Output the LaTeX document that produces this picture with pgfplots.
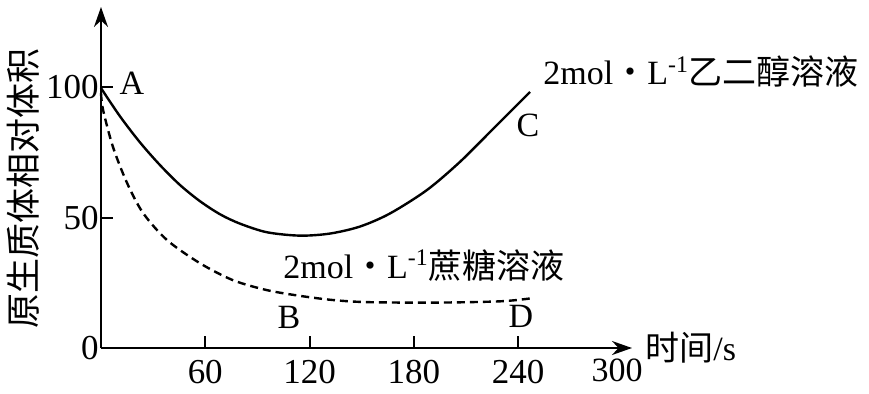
\documentclass[border=0pt]{standalone}
\usepackage{fontspec}
\setmainfont{Liberation Serif}
\newfontfamily\cjk{Noto Sans CJK SC}
\usepackage{pgfplots}
\pgfplotsset{compat=1.18}
\usetikzlibrary{arrows.meta}
\begin{document}
\fontsize{17}{20}\selectfont
\begin{tikzpicture}
\begin{axis}[
  scale only axis, width=265.5pt, height=170.5pt,
  xmin=0, xmax=305.6, ymin=0, ymax=130.8,
  axis lines=left,
  axis line style={line width=1pt, -{Stealth[length=10pt,width=7pt]}},
  xtick={60,120,180,240}, ytick={0,50,100},
  tick align=inside, major tick length=6pt,
  tick style={line width=1pt, black},
  ticklabel style={font=\fontsize{17.5}{20}\selectfont},
  yticklabel style={inner xsep=1pt},
  /pgf/number format/assume math mode=true,
  clip=false,
]
\addplot[smooth, tension=0.5, line width=1.2pt, black] coordinates {
 (0,99.7) (10.9,88.9) (22.4,78.9) (33.9,70.2) (45.5,62.5) (57.0,56.3)
 (68.5,51.3) (80.0,47.7) (95.5,44.4) (114.5,43.1) (131.8,43.9)
 (149.1,46.6) (166.3,51.6) (187.6,60.6) (206.6,71.4) (225.6,84.0)
 (246.9,98.2)};
\addplot[smooth, tension=0.5, line width=1.2pt, black, dash pattern=on 4pt off 2.5pt] coordinates {
 (0,97.8) (1.2,91.3) (6.9,77.1) (15.0,63.3) (24.2,51.8) (38.0,41.4)
 (57.0,32.5) (76.0,26.0) (95.5,22.2) (114.5,20.0) (133.5,18.4)
 (153.1,17.6) (191.1,17.4) (229.6,17.9) (246.9,19.0)};
\coordinate (O) at (axis cs:0,0);
\node at (axis cs:17.8,101.7) {A};
\node at (axis cs:245.8,85.5) {C};
\node at (axis cs:108.2,11.8) {B};
\node at (axis cs:241.7,12.2) {D};
\node[anchor=west, inner sep=0pt] at (axis cs:104.7,31.8) {2mol{\cjk ・}L\textsuperscript{-1}{\cjk 蔗糖溶液}};
\node[anchor=west, inner sep=0pt] at (axis cs:254.4,105.9) {2mol{\cjk ・}L\textsuperscript{-1}{\cjk 乙二醇溶液}};
\node[anchor=west, inner sep=0pt] at (axis cs:313.1,0.3) {{\cjk 时间}/s};
\node at (axis cs:297,-8.5) {300};
\node[rotate=90, font=\fontsize{17.5}{20}\selectfont] at (axis cs:-44.6,61) {\cjk 原生质体相对体积};
\end{axis}
\pgfresetboundingbox
\path[use as bounding box] ([shift={(-50.5pt,-22.5pt)}]O) rectangle ([shift={(384pt,174pt)}]O);
\end{tikzpicture}
\end{document}
